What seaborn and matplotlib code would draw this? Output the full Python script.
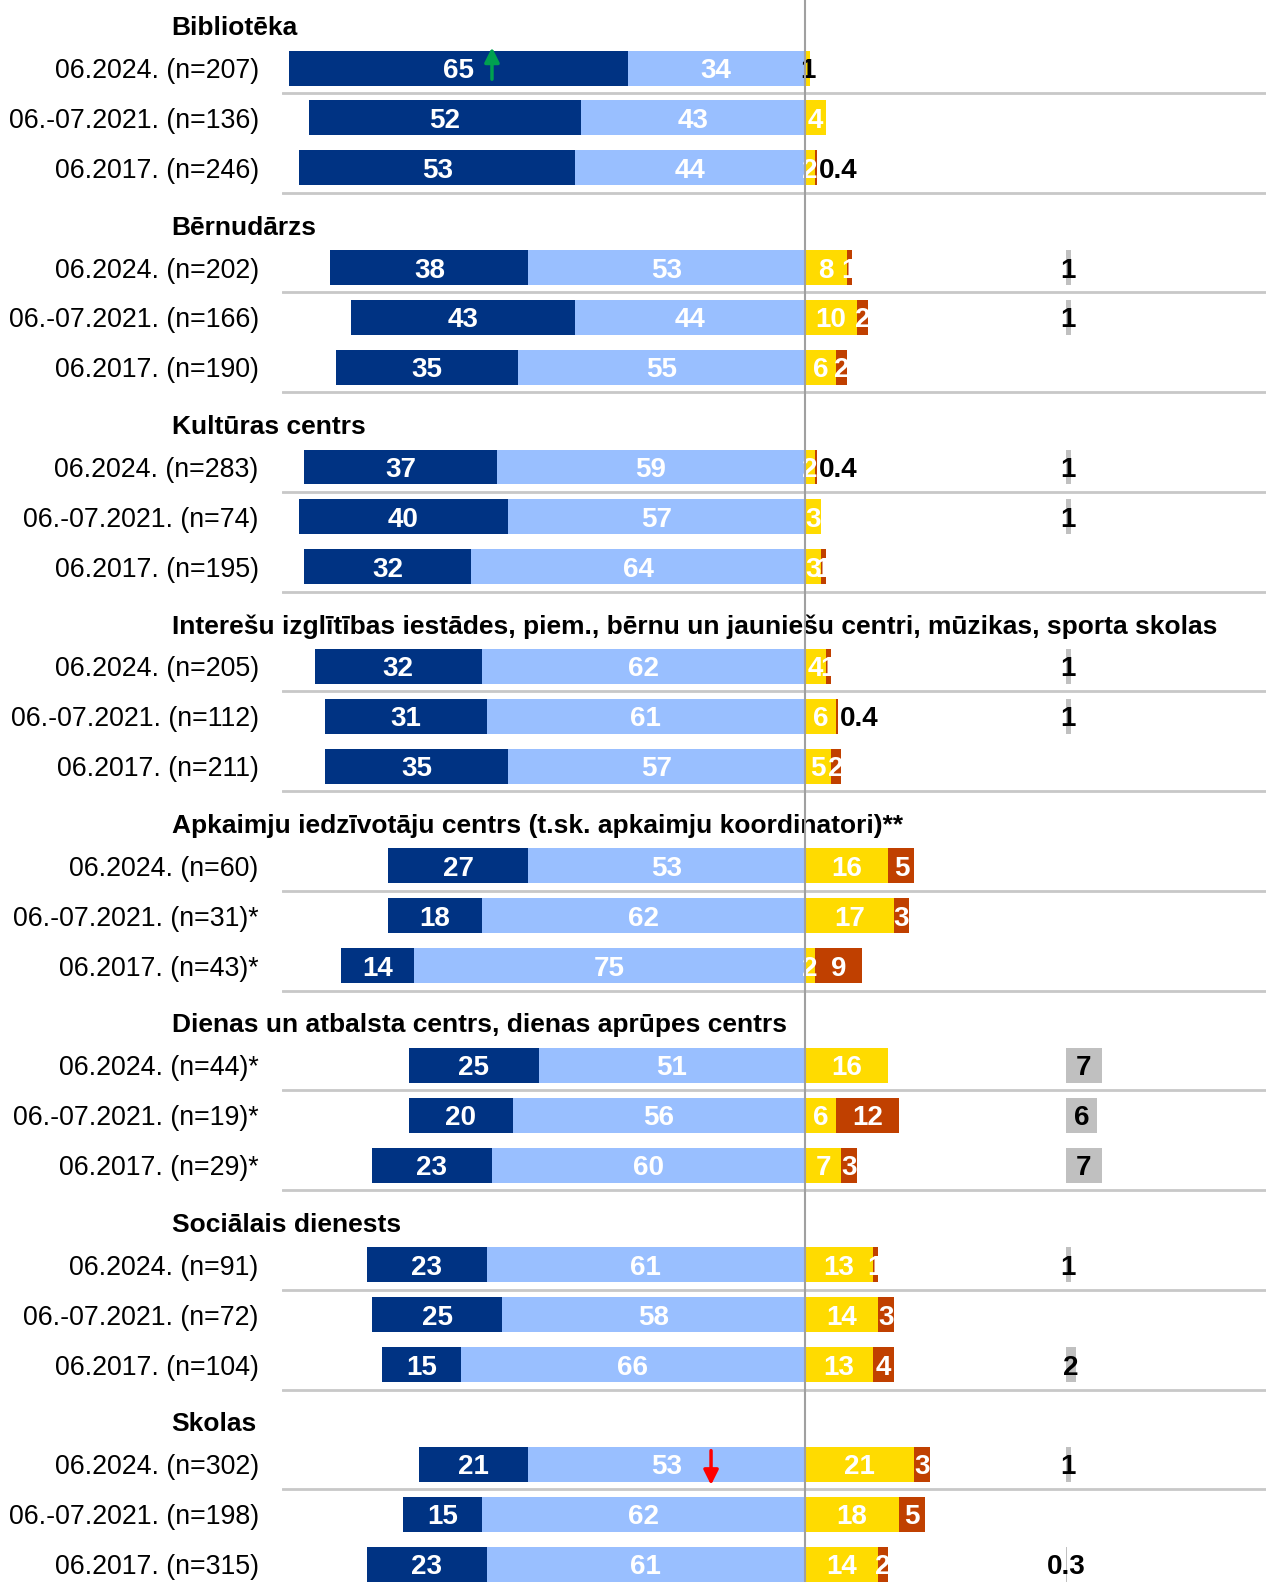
import matplotlib.pyplot as plt
import matplotlib.transforms as mtransforms
import pandas as pd
import seaborn as sns

# group titles and row labels
groups = ["Bibliotēka", "Bērnudārzs", "Kultūras centrs",
          "Interešu izglītības iestādes, piem., bērnu un jauniešu centri, mūzikas, sporta skolas",
          "Apkaimju iedzīvotāju centrs (t.sk. apkaimju koordinatori)**",
          "Dienas un atbalsta centrs, dienas aprūpes centrs",
          "Sociālais dienests", "Skolas"]
row_labels = [
    ["06.2024. (n=207)", "06.-07.2021. (n=136)", "06.2017. (n=246)"],
    ["06.2024. (n=202)", "06.-07.2021. (n=166)", "06.2017. (n=190)"],
    ["06.2024. (n=283)", "06.-07.2021. (n=74)", "06.2017. (n=195)"],
    ["06.2024. (n=205)", "06.-07.2021. (n=112)", "06.2017. (n=211)"],
    ["06.2024. (n=60)", "06.-07.2021. (n=31)*", "06.2017. (n=43)*"],
    ["06.2024. (n=44)*", "06.-07.2021. (n=19)*", "06.2017. (n=29)*"],
    ["06.2024. (n=91)", "06.-07.2021. (n=72)", "06.2017. (n=104)"],
    ["06.2024. (n=302)", "06.-07.2021. (n=198)", "06.2017. (n=315)"],
]

# values, 3 per group (2024, 2021, 2017)
very_satisfied = [65, 52, 53, 38, 43, 35, 37, 40, 32, 32, 31, 35,
                  27, 18, 14, 25, 20, 23, 23, 25, 15, 21, 15, 23]
rather_satisfied = [34, 43, 44, 53, 44, 55, 59, 57, 64, 62, 61, 57,
                    53, 62, 75, 51, 56, 60, 61, 58, 66, 53, 62, 61]
rather_not = [1, 4, 2, 8, 10, 6, 2, 3, 3, 4, 6, 5,
              16, 17, 2, 16, 6, 7, 13, 14, 13, 21, 18, 14]
not_at_all = [0, 0, 0.4, 1, 2, 2, 0.4, 0, 1, 1, 0.4, 2,
              5, 3, 9, 0, 12, 3, 1, 3, 4, 3, 5, 2]
dont_know = [0, 0, 0, 1, 1, 0, 1, 1, 0, 1, 1, 0,
             0, 0, 0, 7, 6, 7, 1, 0, 2, 1, 0, 0.3]

c_dark = "#003383"
c_light = "#99BFFF"
c_yellow = "#FFDB00"
c_red = "#C04000"
c_gray = "#C0C0C0"

# build slots: title slot + 3 rows per group
order, ticklabels, rows = [], [], []
i = 0
for g, name in enumerate(groups):
    order.append("t%d" % g)
    ticklabels.append("")
    rows.append(dict(slot="t%d" % g, neg_total=0, neg_inner=0, pos_total=0, pos_inner=0))
    for k in range(3):
        key = "r%d" % i
        order.append(key)
        ticklabels.append(row_labels[g][k])
        rows.append(dict(slot=key,
                         neg_total=-(very_satisfied[i] + rather_satisfied[i]),
                         neg_inner=-rather_satisfied[i],
                         pos_total=rather_not[i] + not_at_all[i],
                         pos_inner=rather_not[i]))
        i += 1
df = pd.DataFrame(rows)

sns.set_style("white")
plt.rcParams['font.family'] = ['Liberation Sans', 'DejaVu Sans']
plt.rcParams['text.color'] = 'black'
plt.rcParams['ytick.color'] = 'black'

fig = plt.figure(figsize=(12.66, 15.82), dpi=100)
ax = fig.add_axes([282.3 / 1266, 0, 1 - 282.3 / 1266, 1])

for col, color in [("neg_total", c_dark), ("neg_inner", c_light),
                   ("pos_total", c_red), ("pos_inner", c_yellow)]:
    sns.barplot(data=df, x=col, y="slot", order=order, color=color, width=0.7,
                orient="h", errorbar=None, saturation=1, linewidth=0, ax=ax)

# don't know bars, shown apart on the right
pos = [order.index("r%d" % j) for j in range(len(dont_know))]
ax.barh(pos, dont_know, left=50, height=0.7, color=c_gray, linewidth=0)


def fmt(v):
    return "%d" % v if float(v).is_integer() else "%.1f" % v


lab = dict(fontsize=20, fontweight="bold", ha="center", va="center_baseline")
for j, y in enumerate(pos):
    vs, rs, rn, na, dk = very_satisfied[j], rather_satisfied[j], rather_not[j], not_at_all[j], dont_know[j]
    ax.text(-(rs + vs / 2), y, fmt(vs), color="white", **lab)
    ax.text(-rs / 2, y, fmt(rs), color="white", **lab)
    if rn > 0:
        ax.text(rn / 2, y, fmt(rn), color="black" if rn <= 1 else "white", **lab)
    if na >= 1:
        ax.text(rn + na / 2, y, fmt(na), color="white", **lab)
    elif na > 0:
        ax.text(rn + na + 0.3, y, fmt(na), color="black", fontsize=20,
                fontweight="bold", ha="left", va="center_baseline")
    if dk > 0:
        ax.text(50 + dk / 2, y, fmt(dk), color="black", **lab)

# separator lines and zero line
for g in range(len(groups)):
    for off in (1.5, 3.5):
        ax.axhline(4 * g + off, color="#c8c8c8", lw=2, zorder=0)
ax.axvline(0, color="#a0a0a0", lw=1.5, zorder=5)

# group titles
trans = mtransforms.blended_transform_factory(fig.transFigure, ax.transData)
for g, name in enumerate(groups):
    ax.text(171.5 / 1266, 4 * g + 0.2, name, transform=trans, fontsize=19,
            fontweight="bold", ha="left", va="center", color="black")

# change arrows
ax.annotate("", xy=(-60, 1 - 0.47), xytext=(-60, 1 + 0.28),
            arrowprops=dict(arrowstyle="-|>", color="#00A050", lw=2.5, mutation_scale=22))
ax.annotate("", xy=(-18, 29 + 0.47), xytext=(-18, 29 - 0.33),
            arrowprops=dict(arrowstyle="-|>", color="#FF0000", lw=2.5, mutation_scale=22))

ax.set_yticks(range(len(order)))
ax.set_yticklabels(ticklabels, fontsize=19.3, color="black")
ax.tick_params(axis="y", length=0, pad=17)
ax.set_xticks([])
ax.set_xlim(-100.2, 88.4)
ax.set_ylim(31.36, -0.365)
ax.set_xlabel("")
ax.set_ylabel("")
sns.despine(ax=ax, left=True, bottom=True)

fig.text(0.033, 0.9968, "%", fontsize=19, va="bottom", ha="center")

fig.savefig("out.png", dpi=100)
plt.close()
